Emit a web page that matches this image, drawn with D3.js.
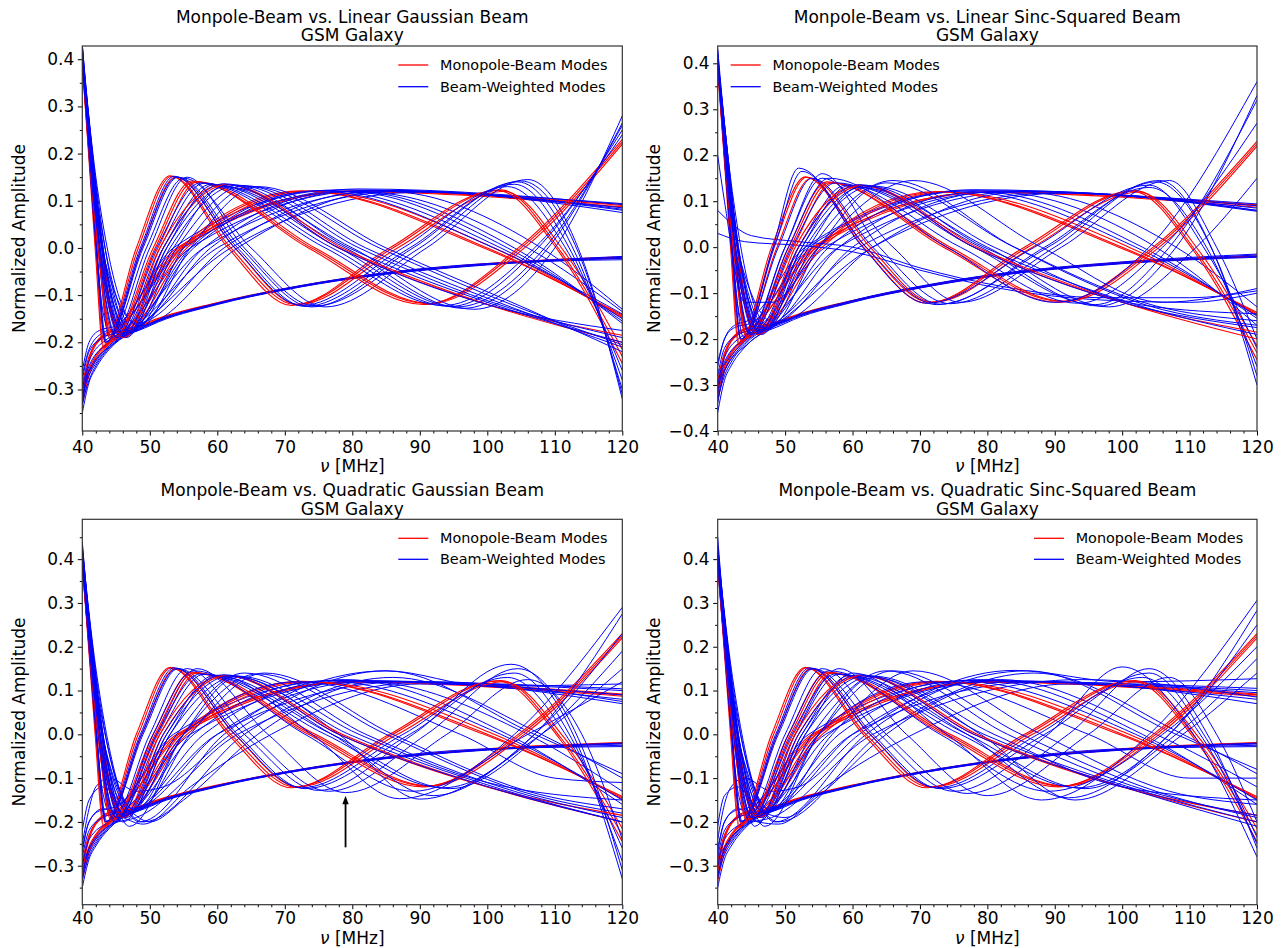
<!DOCTYPE html>
<html><head><meta charset="utf-8">
<script src="https://cdn.jsdelivr.net/npm/d3@7"></script>
<style>
body{margin:0;background:#fff}
svg text{font-family:"DejaVu Sans",sans-serif;fill:#000}
</style>
</head><body>
<svg id="chart" width="1283" height="948"></svg>
<script>
// ---------------- text / ticks ----------------
const panelTitles = [
  "Monpole-Beam vs. Linear Gaussian Beam",
  "Monpole-Beam vs. Linear Sinc-Squared Beam",
  "Monpole-Beam vs. Quadratic Gaussian Beam",
  "Monpole-Beam vs. Quadratic Sinc-Squared Beam"
];
const panelSubtitle = "GSM Galaxy";
const legendLabels = ["Monopole-Beam Modes", "Beam-Weighted Modes"];
const xLabel = "[MHz]";
const yLabel = "Normalized Amplitude";
const xTicks = [40, 50, 60, 70, 80, 90, 100, 110, 120];
const yTicksA = [-0.3, -0.2, -0.1, 0.0, 0.1, 0.2, 0.3, 0.4];
const yTicksB = [-0.4, -0.3, -0.2, -0.1, 0.0, 0.1, 0.2, 0.3, 0.4];
const xDomain = [40, 120];
const yDomainTL = [-0.388, 0.428];
const yDomainTR = [-0.4, 0.4377];
const yDomainBot = [-0.389, 0.491];
const arrowFreq = 79, arrowFrom = -0.258, arrowTo = -0.14;

// ---------------- Monopole-beam modes (red), [MHz, amplitude] key points ----------------
const redA = [
  [[40,-0.322],[41,-0.262],[42,-0.232],[44,-0.2],[50,-0.158],[60,-0.117],[70,-0.087],[80,-0.063],[100,-0.034],[120,-0.02]],
  [[40,-0.31],[41,-0.256],[42,-0.228],[44,-0.197],[50,-0.156],[60,-0.116],[70,-0.086],[80,-0.062],[100,-0.033],[120,-0.019]],
  [[40,-0.335],[41,-0.27],[42,-0.238],[44,-0.204],[50,-0.16],[60,-0.118],[70,-0.088],[80,-0.064],[100,-0.035],[120,-0.021]]
];
const redB = [
  [[40,-0.3],[41,-0.235],[43,-0.185],[44.5,-0.175],[54,0],[80,0.12],[120,0.09]],
  [[40,-0.29],[41,-0.23],[43.2,-0.186],[45,-0.174],[54.7,0],[81,0.121],[120,0.092]],
  [[40,-0.31],[41,-0.24],[43,-0.19],[44.8,-0.18],[54.3,0],[79,0.119],[120,0.087]]
];
const redC = [
  [[40,0.39],[42,0.11],[45.5,-0.18],[55,0],[73,0.12],[100,0],[120,-0.145]],
  [[40,0.4],[42,0.1],[45.8,-0.185],[55.5,0],[74,0.12],[101,0],[120,-0.148]],
  [[40,0.385],[42,0.12],[45.3,-0.178],[54.6,0],[72.5,0.121],[99.5,0],[120,-0.142]]
];
const redD = [
  [[40,0.4],[42,0.0],[43.2,-0.21],[48.3,0],[53.2,0.152],[62,0],[71.5,-0.12],[86,0],[102,0.123],[111,-0.01],[120,-0.23]],
  [[40,0.41],[42,0.015],[43.5,-0.205],[48.8,0],[53.8,0.15],[62.6,0],[72,-0.12],[86.7,0],[102.5,0.12],[111.5,-0.01],[120,-0.215]],
  [[40,0.39],[41.9,0.0],[43.1,-0.212],[48,0],[53,0.153],[61.6,0],[71,-0.122],[85.5,0],[101.5,0.122],[110.7,-0.01],[120,-0.245]]
];
const redE = [
  [[40,0.4],[42,0.05],[44.5,-0.195],[50.8,0],[56.5,0.14],[74,0],[91,-0.118],[105,0],[120,0.225]],
  [[40,0.395],[42,0.04],[44.8,-0.19],[51.2,0],[57,0.14],[74.5,0],[91.5,-0.118],[105.5,0],[120,0.22]],
  [[40,0.405],[42,0.06],[44.3,-0.198],[50.5,0],[56.2,0.142],[73.5,0],[90.5,-0.12],[104.6,0],[120,0.23]]
];
const redF = [
  [[40,0.4],[42,0.06],[46,-0.19],[51.5,0],[61,0.135],[78,0],[100,-0.12],[120,-0.185]],
  [[40,0.39],[42,0.05],[46.3,-0.19],[52,0],[61.5,0.134],[78.5,0],[100.5,-0.122],[120,-0.2]]
];

// ---------------- Beam-weighted modes (blue), per panel ----------------
// Top-left: Linear Gaussian
const blueTL_A = [
  [[40,-0.35],[41,-0.285],[42,-0.255],[44,-0.215],[50,-0.165],[60,-0.12],[70,-0.089],[80,-0.065],[100,-0.036],[120,-0.022]],
  [[40,-0.33],[41,-0.28],[42,-0.25],[44,-0.212],[50,-0.163],[60,-0.119],[70,-0.088],[80,-0.064],[100,-0.035],[120,-0.02]],
  [[40,-0.31],[41,-0.27],[42,-0.245],[44,-0.21],[50,-0.162],[60,-0.118],[70,-0.087],[80,-0.063],[100,-0.034],[120,-0.018]],
  [[40,-0.29],[41,-0.262],[42,-0.24],[44,-0.207],[50,-0.16],[60,-0.117],[70,-0.086],[80,-0.062],[100,-0.033],[120,-0.025]]
];
const blueTL_B = [
  [[40,-0.28],[41,-0.22],[43,-0.19],[45.5,-0.178],[56,0],[83,0.122],[120,0.085]],
  [[40,-0.3],[41,-0.24],[43.5,-0.195],[46,-0.18],[58,0],[86,0.122],[120,0.08]],
  [[40,-0.27],[41,-0.215],[43,-0.18],[45,-0.17],[55,0],[81,0.125],[120,0.092]],
  [[40,-0.32],[41,-0.25],[44,-0.2],[47,-0.175],[60,0],[88,0.12],[120,0.075]],
  [[40,-0.26],[41,-0.2],[42.5,-0.175],[45,-0.165],[53.5,0],[78,0.123],[120,0.094]],
  [[40,-0.33],[41,-0.26],[44.5,-0.205],[48,-0.17],[62,0],[90,0.118],[120,0.082]]
];
const blueTL_C = [
  [[40,0.4],[42,0.12],[46,-0.18],[56.5,0],[76,0.122],[102,0],[120,-0.15]],
  [[40,0.41],[42,0.14],[47,-0.17],[59,0],[80,0.12],[104,0],[120,-0.16]],
  [[40,0.39],[42,0.1],[45.8,-0.19],[56,0],[75,0.121],[101,0],[120,-0.14]],
  [[40,0.42],[42.2,0.13],[48,-0.16],[61,0],[82,0.118],[106,0],[120,-0.135]],
  [[40,0.41],[41.5,0.2],[43,0.0],[46.8,-0.175],[58,0],[79,0.12],[103,0],[120,-0.155]],
  [[40,0.4],[41.5,0.18],[43.2,-0.02],[48.5,-0.165],[63,0],[85,0.12],[108,0],[120,-0.13]]
];
const blueTL_D = [
  [[40,0.41],[42,0.02],[43.4,-0.2],[48.6,0],[53.6,0.152],[62.6,0],[72.5,-0.122],[87.5,0],[103,0.13],[112,-0.01],[120,-0.26]],
  [[40,0.42],[42,0.03],[43.6,-0.198],[49,0],[54.2,0.15],[63.5,0],[74,-0.125],[89,0],[104.5,0.14],[113,-0.01],[120,-0.3]],
  [[40,0.4],[42,0.01],[43.5,-0.2],[48.8,0],[54,0.15],[63,0],[73,-0.124],[88.5,0],[104,0.135],[112.5,-0.01],[120,-0.28]],
  [[40,0.43],[42.2,0.03],[44,-0.19],[49.5,0],[55,0.148],[65,0],[76,-0.125],[91,0],[106,0.145],[114,-0.02],[120,-0.32]],
  [[40,0.41],[41.5,0.12],[43,-0.13],[44.5,-0.19],[50,0],[55.5,0.15],[64,0],[74.5,-0.123],[90,0],[105,0.142],[113.5,-0.01],[120,-0.31]]
];
const blueTL_E = [
  [[40,0.41],[42,0.06],[45,-0.19],[51,0],[57.5,0.138],[76,0],[93.5,-0.122],[107,0],[120,0.24]],
  [[40,0.42],[42,0.08],[45.5,-0.185],[52,0],[59,0.135],[78,0],[95.5,-0.125],[108.5,0],[120,0.26]],
  [[40,0.4],[42,0.06],[45.2,-0.19],[51.5,0],[58,0.137],[77,0],[94.5,-0.124],[107.5,0],[120,0.25]],
  [[40,0.43],[42.2,0.1],[46.5,-0.18],[53.5,0],[61,0.13],[80,0],[98,-0.13],[110,0],[120,0.28]],
  [[40,0.41],[41.5,0.18],[43,-0.05],[46,-0.185],[52.5,0],[59.5,0.134],[79,0],[96.5,-0.128],[109,0],[120,0.265]]
];
const blueTL_F = [
  [[40,0.41],[42,0.07],[46.5,-0.185],[52.5,0],[62,0.134],[79.5,0],[102,-0.125],[120,-0.2]],
  [[40,0.42],[42,0.09],[47,-0.18],[54,0],[64,0.132],[82,0],[104,-0.128],[120,-0.21]],
  [[40,0.4],[42,0.06],[46.5,-0.19],[53,0],[63,0.133],[81,0],[103,-0.126],[120,-0.19]],
  [[40,0.43],[42.2,0.1],[48,-0.175],[56,0],[66,0.13],[85,0],[106,-0.13],[120,-0.22]],
  [[40,0.41],[41.5,0.2],[43,0.0],[47.5,-0.178],[55,0],[65,0.13],[84,0],[105,-0.128],[120,-0.205]],
  [[40,0.39],[41.5,0.16],[43,-0.05],[46,-0.188],[52,0],[61,0.136],[78,0],[101,-0.124],[120,-0.175]]
];

// Top-right: Linear Sinc-Squared
const blueTR_A = [
  [[40,-0.36],[41,-0.29],[42,-0.258],[44,-0.218],[50,-0.166],[60,-0.12],[70,-0.089],[80,-0.065],[100,-0.036],[120,-0.022]],
  [[40,-0.33],[41,-0.28],[42,-0.25],[44,-0.212],[50,-0.163],[60,-0.119],[70,-0.088],[80,-0.064],[100,-0.035],[120,-0.02]],
  [[40,-0.3],[41,-0.268],[42,-0.243],[44,-0.208],[50,-0.161],[60,-0.117],[70,-0.086],[80,-0.062],[100,-0.034],[120,-0.017]],
  [[40,-0.27],[41,-0.255],[42,-0.236],[44,-0.204],[50,-0.159],[60,-0.116],[70,-0.085],[80,-0.061],[100,-0.032],[120,-0.015]]
];
const blueTR_B = [
  [[40,-0.28],[41,-0.22],[43,-0.19],[45.5,-0.178],[56,0],[83,0.122],[120,0.085]],
  [[40,-0.3],[41,-0.24],[43.5,-0.195],[46,-0.18],[58,0],[86,0.122],[120,0.08]],
  [[40,-0.25],[41,-0.2],[42.5,-0.17],[44.5,-0.16],[53,0],[78,0.125],[120,0.09]],
  [[40,-0.32],[41,-0.25],[44,-0.2],[47.5,-0.175],[61,0],[90,0.118],[120,0.078]],
  [[40,-0.26],[41,-0.2],[42.5,-0.175],[45,-0.165],[53.5,0],[78,0.123],[120,0.094]],
  [[40,-0.34],[41,-0.27],[44.5,-0.21],[48.5,-0.17],[63,0],[92,0.118],[120,0.08]]
];
const blueTR_C = [
  [[40,0.4],[42,0.12],[46,-0.18],[56.5,0],[76,0.122],[102,0],[120,-0.15]],
  [[40,0.41],[42,0.14],[47.5,-0.17],[60,0],[81,0.12],[105,0],[120,-0.17]],
  [[40,0.08],[45,0.025],[52,0.012],[60,0],[70,-0.045],[82,-0.085],[97,-0.11],[110,-0.11],[120,-0.095]],
  [[40,0.03],[44,0.012],[52,0.004],[60,-0.01],[70,-0.05],[82,-0.09],[97,-0.115],[110,-0.12],[120,-0.1]],
  [[40,0.41],[41.5,0.2],[43,0.0],[46.8,-0.175],[58,0],[79,0.12],[103,0],[120,-0.155]],
  [[40,0.4],[41.5,0.18],[43.2,-0.02],[48.5,-0.165],[63,0],[85,0.12],[108,0],[120,-0.13]]
];
const blueTR_D = [
  [[40,0.41],[42,0.02],[43.4,-0.2],[48.4,0],[52.5,0.165],[61.5,0],[71,-0.122],[87,0],[104,0.135],[112.5,-0.01],[120,-0.22]],
  [[40,0.42],[42,0.03],[43.8,-0.195],[48.2,0],[52,0.172],[62,0],[72.5,-0.125],[89,0],[105.5,0.145],[113.5,-0.01],[120,-0.3]],
  [[40,0.4],[42,0.01],[43.5,-0.2],[49,0],[54,0.15],[63,0],[73,-0.124],[88.5,0],[104,0.13],[112.5,0],[120,-0.26]],
  [[40,0.43],[42.2,0.03],[44.5,-0.185],[50,0],[55.5,0.15],[66,0],[76,-0.12],[91,0],[107,0.145],[114,0],[120,-0.2]],
  [[40,0.41],[41.5,0.12],[43,-0.13],[44.5,-0.19],[50,0],[55.5,0.16],[64,0],[74.5,-0.123],[90,0],[105,0.142],[113.5,-0.01],[120,-0.28]]
];
const blueTR_E = [
  [[40,0.41],[42,0.06],[45,-0.19],[51,0],[57.5,0.14],[76,0],[93.5,-0.122],[106,0],[120,0.27]],
  [[40,0.42],[42,0.08],[45.5,-0.185],[52,0],[59,0.135],[78,0],[96,-0.125],[107,0],[120,0.32]],
  [[40,0.4],[42,0.06],[44.8,-0.19],[50.5,0],[56.5,0.15],[74,0],[90,-0.12],[104,0],[120,0.36]],
  [[40,0.43],[42.2,0.1],[46.5,-0.18],[53.5,0],[61,0.13],[80,0],[98,-0.13],[111,0],[120,0.15]],
  [[40,0.41],[41.5,0.18],[43,-0.05],[46,-0.185],[52.5,0],[59.5,0.134],[79,0],[96.5,-0.128],[108,0],[120,0.33]]
];
const blueTR_F = [
  [[40,0.41],[42,0.07],[46.5,-0.185],[52.5,0],[62,0.134],[79.5,0],[102,-0.125],[120,-0.19]],
  [[40,0.42],[42,0.09],[47,-0.18],[54,0],[66,0.145],[84,0],[104,-0.128],[120,-0.17]],
  [[40,0.4],[42,0.06],[46.5,-0.19],[53,0],[63,0.133],[81,0],[103,-0.126],[120,-0.145]],
  [[40,0.2],[41,0.1],[44,-0.12],[48,-0.12],[55,0],[69,0.145],[88,0],[106,-0.12],[120,-0.09]],
  [[40,0.41],[41.5,0.2],[43,0.0],[47.5,-0.178],[55,0],[65,0.14],[84,0],[105,-0.128],[120,-0.16]],
  [[40,0.39],[41.5,0.16],[43,-0.05],[46,-0.188],[52,0],[61,0.136],[78,0],[101,-0.124],[120,-0.175]]
];

// Bottom-left: Quadratic Gaussian
const blueBL_A = [
  [[40,-0.35],[41,-0.285],[42,-0.255],[44,-0.215],[50,-0.165],[60,-0.12],[70,-0.089],[80,-0.065],[100,-0.036],[120,-0.025]],
  [[40,-0.33],[41,-0.278],[42,-0.25],[44,-0.212],[50,-0.163],[60,-0.119],[70,-0.088],[80,-0.064],[100,-0.035],[120,-0.022]],
  [[40,-0.31],[41,-0.27],[42,-0.245],[44,-0.21],[50,-0.162],[60,-0.118],[70,-0.087],[80,-0.063],[100,-0.034],[120,-0.02]],
  [[40,-0.3],[41,-0.262],[42,-0.24],[44,-0.207],[50,-0.16],[60,-0.117],[70,-0.086],[80,-0.062],[100,-0.033],[120,-0.028]]
];
const blueBL_B = [
  [[40,-0.28],[41,-0.22],[43,-0.19],[45.5,-0.178],[56,0],[82,0.122],[120,0.08]],
  [[40,-0.25],[41,-0.17],[42,-0.12],[44,-0.1],[48,-0.13],[52,-0.12],[62,0],[85,0.145],[100,0.11],[120,0.115]],
  [[40,-0.22],[41,-0.15],[43,-0.12],[46,-0.16],[50,-0.2],[55,-0.15],[66,0],[84,0.12],[120,0.104]],
  [[40,-0.3],[41,-0.24],[44,-0.2],[47.5,-0.18],[60,0],[88,0.12],[120,0.07]],
  [[40,-0.27],[41,-0.2],[43,-0.17],[46,-0.19],[49,-0.205],[56,-0.12],[68,0],[90,0.115],[120,0.09]],
  [[40,-0.26],[41,-0.2],[42.5,-0.175],[45,-0.165],[53.5,0],[78,0.123],[120,0.1]],
  [[40,-0.33],[41,-0.26],[44.5,-0.205],[48,-0.19],[63,0],[92,0.12],[120,0.075]]
];
const blueBL_C = [
  [[40,0.4],[42,0.12],[46,-0.18],[56.5,0],[76,0.122],[102,0],[120,-0.15]],
  [[40,0.41],[42,0.14],[47.5,-0.17],[60,0],[82,0.12],[106,0],[120,-0.13]],
  [[40,0.39],[42,0.1],[45.8,-0.19],[55,0],[72,0.12],[96,0],[110,-0.1],[120,-0.11]],
  [[40,0.42],[42.2,0.13],[48.5,-0.2],[61,0],[85,0.145],[107,0],[120,-0.09]],
  [[40,0.41],[41.5,0.2],[43,0.0],[46.8,-0.175],[58,0],[79,0.125],[103,0],[120,-0.16]],
  [[40,0.4],[41.5,0.18],[43.2,-0.02],[49,-0.2],[64,0],[86,0.13],[108,0],[120,-0.1]]
];
const blueBL_D = [
  [[40,0.41],[42,0.02],[43.4,-0.2],[48.6,0],[53.6,0.152],[62.6,0],[72.5,-0.122],[87.5,0],[103,0.13],[112,-0.01],[120,-0.26]],
  [[40,0.42],[42,0.03],[43.6,-0.198],[49,0],[54.2,0.15],[64,0],[75,-0.128],[89,0],[103.5,0.16],[113,-0.01],[120,-0.33]],
  [[40,0.44],[42.2,0.06],[45,-0.2],[51,0],[57,0.15],[67.5,0],[79,-0.133],[94,0],[106,0.125],[114,0],[120,-0.24]],
  [[40,0.4],[42,0.01],[43.5,-0.2],[48.8,0],[54,0.15],[63,0],[73,-0.124],[88.5,0],[104,0.14],[112.5,-0.01],[120,-0.29]],
  [[40,0.41],[41.5,0.12],[43,-0.13],[44.5,-0.19],[50,0],[55.5,0.15],[65,0],[76.5,-0.13],[91,0],[104.5,0.15],[113.5,-0.01],[120,-0.31]]
];
const blueBL_E = [
  [[40,0.41],[42,0.06],[45,-0.19],[51,0],[57.5,0.138],[76,0],[93.5,-0.122],[107,0],[120,0.275]],
  [[40,0.42],[42,0.08],[46,-0.2],[53,0],[60,0.135],[74,0],[87,-0.147],[104,0],[120,0.29]],
  [[40,0.4],[42,0.06],[45.2,-0.19],[51.5,0],[58,0.137],[77,0],[94.5,-0.124],[108,0],[120,0.19]],
  [[40,0.43],[42.2,0.1],[47,-0.21],[55,0],[63,0.13],[78,0],[90,-0.148],[108,0],[120,0.15]],
  [[40,0.38],[42,0.05],[44.8,-0.2],[50.5,0],[56.5,0.145],[73,0],[89,-0.13],[106,0],[120,0.12]],
  [[40,0.41],[41.5,0.18],[43,-0.05],[46,-0.19],[52.5,0],[59.5,0.134],[77,0],[92,-0.14],[107,0],[120,0.23]]
];
const blueBL_F = [
  [[40,0.41],[42,0.07],[46.5,-0.185],[52.5,0],[62,0.134],[79.5,0],[102,-0.125],[120,-0.2]],
  [[40,0.42],[42,0.09],[47,-0.18],[54,0],[64,0.14],[82,0],[104,-0.13],[120,-0.19]],
  [[40,0.4],[42,0.06],[46.5,-0.19],[53,0],[63,0.133],[81,0],[100,-0.11],[120,-0.15]],
  [[40,0.43],[42.2,0.1],[48,-0.175],[56,0],[67,0.14],[86,0],[106,-0.13],[120,-0.17]],
  [[40,0.41],[41.5,0.2],[43,0.0],[47.5,-0.178],[55,0],[66,0.138],[85,0],[105,-0.13],[120,-0.18]],
  [[40,0.39],[41.5,0.16],[43,-0.05],[46,-0.188],[52,0],[61,0.136],[78,0],[101,-0.124],[120,-0.2]]
];

// Bottom-right: Quadratic Sinc-Squared
const blueBR_A = [
  [[40,-0.35],[41,-0.285],[42,-0.255],[44,-0.215],[50,-0.165],[60,-0.12],[70,-0.089],[80,-0.065],[100,-0.036],[120,-0.025]],
  [[40,-0.32],[41,-0.275],[42,-0.248],[44,-0.211],[50,-0.163],[60,-0.119],[70,-0.088],[80,-0.064],[100,-0.035],[120,-0.022]],
  [[40,-0.3],[41,-0.266],[42,-0.243],[44,-0.209],[50,-0.161],[60,-0.118],[70,-0.087],[80,-0.063],[100,-0.034],[120,-0.02]],
  [[40,-0.28],[41,-0.258],[42,-0.238],[44,-0.206],[50,-0.16],[60,-0.117],[70,-0.086],[80,-0.062],[100,-0.033],[120,-0.028]]
];
const blueBR_B = [
  [[40,-0.28],[41,-0.22],[43,-0.19],[45.5,-0.178],[56,0],[82,0.122],[120,0.08]],
  [[40,-0.24],[41,-0.16],[42,-0.12],[44,-0.1],[48,-0.13],[52,-0.12],[61,0],[84,0.146],[100,0.12],[120,0.127]],
  [[40,-0.21],[41,-0.14],[43,-0.12],[46,-0.17],[50,-0.19],[55,-0.14],[65,0],[83,0.12],[120,0.105]],
  [[40,-0.3],[41,-0.24],[44,-0.2],[47.5,-0.18],[60,0],[88,0.12],[120,0.07]],
  [[40,-0.27],[41,-0.2],[43,-0.17],[46,-0.2],[49,-0.205],[56,-0.12],[69,0],[92,0.115],[120,0.095]],
  [[40,-0.26],[41,-0.2],[42.5,-0.175],[45,-0.165],[53.5,0],[78,0.123],[120,0.1]],
  [[40,-0.33],[41,-0.26],[44.5,-0.205],[48,-0.19],[63,0],[94,0.125],[120,0.085]]
];
const blueBR_C = [
  [[40,0.4],[42,0.12],[46,-0.18],[56.5,0],[76,0.122],[102,0],[120,-0.15]],
  [[40,0.41],[42,0.14],[47.5,-0.17],[60,0],[82,0.125],[105,0],[120,-0.12]],
  [[40,0.39],[42,0.1],[45.8,-0.19],[55,0],[71,0.12],[95,0],[110,-0.1],[120,-0.1]],
  [[40,0.42],[42.2,0.13],[48.5,-0.2],[62,0],[86,0.145],[108,0],[120,-0.08]],
  [[40,0.41],[41.5,0.2],[43,0.0],[46.8,-0.175],[58,0],[79,0.125],[103,0],[120,-0.16]],
  [[40,0.4],[41.5,0.18],[43.2,-0.02],[49,-0.2],[64,0],[87,0.14],[109,0],[120,-0.09]]
];
const blueBR_D = [
  [[40,0.41],[42,0.02],[43.4,-0.2],[48.6,0],[53.6,0.152],[62.6,0],[72.5,-0.122],[87.5,0],[103,0.13],[112,-0.01],[120,-0.25]],
  [[40,0.42],[42,0.03],[43.6,-0.198],[49,0],[54.2,0.15],[64,0],[75,-0.13],[89,0],[100,0.154],[111,-0.01],[120,-0.28]],
  [[40,0.45],[42.2,0.06],[45.5,-0.21],[51.5,0],[58,0.15],[68,0],[80,-0.14],[95,0],[107,0.13],[114,0],[120,-0.2]],
  [[40,0.4],[42,0.01],[43.5,-0.2],[48.8,0],[54,0.15],[63,0],[73,-0.124],[88.5,0],[104,0.14],[112.5,-0.01],[120,-0.235]],
  [[40,0.41],[41.5,0.12],[43,-0.13],[44.5,-0.19],[50,0],[55.5,0.15],[65,0],[77,-0.135],[92,0],[104,0.15],[113,-0.01],[120,-0.26]]
];
const blueBR_E = [
  [[40,0.41],[42,0.06],[45,-0.19],[51,0],[57.5,0.138],[76,0],[93.5,-0.122],[107,0],[120,0.283]],
  [[40,0.42],[42,0.08],[46,-0.2],[53,0],[60,0.14],[74,0],[88,-0.15],[104,0],[120,0.306]],
  [[40,0.4],[42,0.06],[45.2,-0.19],[51.5,0],[58,0.137],[77,0],[94.5,-0.124],[108,0],[120,0.173]],
  [[40,0.43],[42.2,0.1],[47,-0.21],[55,0],[63,0.13],[79,0],[93,-0.15],[109,0],[120,0.14]],
  [[40,0.38],[42,0.05],[44.8,-0.2],[50.5,0],[56.5,0.145],[73,0],[89,-0.13],[106,0],[120,0.2]],
  [[40,0.41],[41.5,0.18],[43,-0.05],[46,-0.19],[52.5,0],[59.5,0.134],[77,0],[92,-0.145],[107,0],[120,0.25]]
];
const blueBR_F = [
  [[40,0.41],[42,0.07],[46.5,-0.185],[52.5,0],[62,0.134],[79.5,0],[102,-0.125],[120,-0.2]],
  [[40,0.42],[42,0.09],[47,-0.18],[54,0],[65,0.145],[83,0],[104,-0.13],[120,-0.185]],
  [[40,0.4],[42,0.06],[46.5,-0.19],[53,0],[63,0.133],[81,0],[100,-0.12],[120,-0.15]],
  [[40,0.43],[42.2,0.1],[48,-0.175],[57,0],[69,0.145],[88,0],[107,-0.13],[120,-0.16]],
  [[40,0.41],[41.5,0.2],[43,0.0],[47.5,-0.178],[55,0],[66,0.145],[85,0],[105,-0.13],[120,-0.19]],
  [[40,0.39],[41.5,0.16],[43,-0.05],[46,-0.188],[52,0],[61,0.136],[78,0],[101,-0.124],[120,-0.21]]
];

// ---------------- layout (pixels) ----------------
const panels = [
  {x0:82.3, x1:622.3, y0:46, y1:431, yDom:yDomainTL, yTicks:yTicksA, legX:398.3, legY:65, legGap:21.7, xlOff:40.5, tPad:5,
   blue:[blueTL_A,blueTL_B,blueTL_C,blueTL_D,blueTL_E,blueTL_F], arrow:false},
  {x0:717.7, x1:1257, y0:46, y1:431, yDom:yDomainTR, yTicks:yTicksB, legX:730.7, legY:65, legGap:21.7, xlOff:40.5, tPad:5,
   blue:[blueTR_A,blueTR_B,blueTR_C,blueTR_D,blueTR_E,blueTR_F], arrow:false},
  {x0:82.3, x1:622.3, y0:519.3, y1:904.7, yDom:yDomainBot, yTicks:yTicksA, legX:398.3, legY:538.3, legGap:21, xlOff:39.3, tPad:2.8,
   blue:[blueBL_A,blueBL_B,blueBL_C,blueBL_D,blueBL_E,blueBL_F], arrow:true},
  {x0:717.7, x1:1257, y0:519.3, y1:904.7, yDom:yDomainBot, yTicks:yTicksA, legX:1034, legY:538.3, legGap:21, xlOff:39.3, tPad:2.8,
   blue:[blueBR_A,blueBR_B,blueBR_C,blueBR_D,blueBR_E,blueBR_F], arrow:false}
];
const redModes = [redA, redB, redC, redD, redE, redF];
const RED = "#ff0000", BLUE = "#0000ff";

const svg = d3.select("#chart");
const fmt = d3.format(".1f");

panels.forEach((p, i) => {
  const x = d3.scaleLinear().domain(xDomain).range([p.x0, p.x1]);
  const y = d3.scaleLinear().domain(p.yDom).range([p.y1, p.y0]);
  const g = svg.append("g");
  const clipId = "clip" + i;
  g.append("clipPath").attr("id", clipId).append("rect")
    .attr("x", p.x0).attr("y", p.y0).attr("width", p.x1 - p.x0).attr("height", p.y1 - p.y0);
  const line = d3.line().x(d => x(d[0])).y(d => y(d[1])).curve(d3.curveMonotoneX);
  const lg = g.append("g").attr("clip-path", `url(#${clipId})`);
  redModes.forEach((rm, m) => {
    rm.forEach(c => lg.append("path").attr("d", line(c)).attr("fill", "none")
      .attr("stroke", RED).attr("stroke-width", 1.1));
    p.blue[m].forEach(c => lg.append("path").attr("d", line(c)).attr("fill", "none")
      .attr("stroke", BLUE).attr("stroke-width", 1));
  });

  // axes
  const xAx = g.append("g").attr("transform", `translate(0,${p.y1})`)
    .call(d3.axisBottom(x).tickValues(xTicks).tickSize(4.5).tickPadding(p.tPad).tickFormat(d3.format("d")));
  const xMinor = g.append("g").attr("transform", `translate(0,${p.y1})`)
    .call(d3.axisBottom(x).tickValues(d3.range(42, 120, 2).filter(v => v % 10 !== 0)).tickSize(2.5).tickFormat(""));
  const yAx = g.append("g").attr("transform", `translate(${p.x0},0)`)
    .call(d3.axisLeft(y).tickValues(p.yTicks).tickSize(4.5).tickPadding(3.5).tickFormat(d => fmt(d)));
  const yMin = [];
  for (let k = -8; k <= 9; k++) { const v = k / 10 + 0.05; if (v > p.yDom[0] && v < p.yDom[1]) yMin.push(v); }
  const yMinor = g.append("g").attr("transform", `translate(${p.x0},0)`)
    .call(d3.axisLeft(y).tickValues(yMin).tickSize(2.5).tickFormat(""));
  [xAx, xMinor, yAx, yMinor].forEach(a => {
    a.select(".domain").remove();
    a.selectAll("line").attr("stroke", "#000").attr("stroke-width", 1);
    a.selectAll("text").attr("font-size", "17px").attr("font-family", "DejaVu Sans").attr("fill", "#000");
  });

  // frame
  g.append("rect").attr("x", p.x0).attr("y", p.y0).attr("width", p.x1 - p.x0).attr("height", p.y1 - p.y0)
    .attr("fill", "none").attr("stroke", "#333").attr("stroke-width", 1.2);

  // titles
  const cx = (p.x0 + p.x1) / 2;
  g.append("text").attr("x", cx).attr("y", p.y0 - 23.3).attr("text-anchor", "middle")
    .attr("font-size", "17px").text(panelTitles[i]);
  g.append("text").attr("x", cx).attr("y", p.y0 - 4.7).attr("text-anchor", "middle")
    .attr("font-size", "17px").text(panelSubtitle);

  // axis labels
  const xl = g.append("text").attr("x", cx).attr("y", p.y1 + p.xlOff).attr("text-anchor", "middle").attr("font-size", "17px");
  xl.append("tspan").attr("font-style", "italic").text("ν");
  xl.append("tspan").text(" " + xLabel);
  g.append("text").attr("transform", `translate(${p.x0 - 57.5},${(p.y0 + p.y1) / 2}) rotate(-90)`)
    .attr("text-anchor", "middle").attr("font-size", "17px").text(yLabel);

  // legend
  [RED, BLUE].forEach((col, k) => {
    const ly = p.legY + k * p.legGap;
    g.append("line").attr("x1", p.legX).attr("x2", p.legX + 30).attr("y1", ly).attr("y2", ly)
      .attr("stroke", col).attr("stroke-width", 1.3);
    g.append("text").attr("x", p.legX + 41.7).attr("y", ly + 5).attr("font-size", "14.4px").text(legendLabels[k]);
  });

  // arrow annotation
  if (p.arrow) {
    const ax = x(arrowFreq), yTail = y(arrowFrom), yTip = y(arrowTo);
    g.append("line").attr("x1", ax).attr("x2", ax).attr("y1", yTail).attr("y2", yTip + 7)
      .attr("stroke", "#000").attr("stroke-width", 1.8);
    g.append("path").attr("d", `M${ax},${yTip} L${ax - 3.2},${yTip + 8.5} L${ax + 3.2},${yTip + 8.5} Z`)
      .attr("fill", "#000");
  }
});
</script>
</body></html>
